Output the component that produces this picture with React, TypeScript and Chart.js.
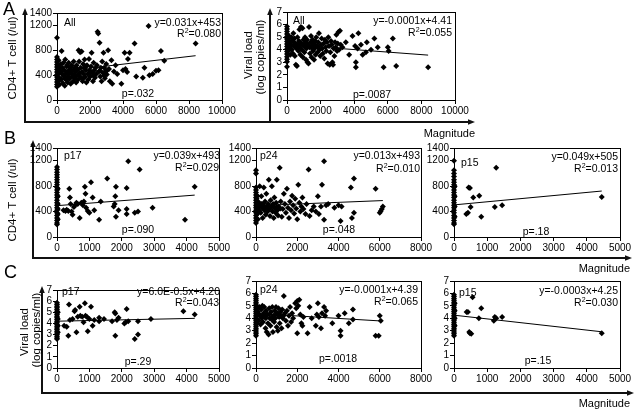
import React, { useEffect, useRef } from 'react';
import { Chart, registerables } from 'chart.js';

Chart.register(...registerables);

const FONT = "'Liberation Sans', Arial, Helvetica, sans-serif";

// ---------------- data ----------------
const cd4TicksY = [0, 400, 800, 1200, 1400];
const vlTicksY = [0, 1, 2, 3, 4, 5, 6, 7];
const magTicks10k = [0, 2000, 4000, 6000, 8000, 10000];
const magTicks8k = [0, 2000, 4000, 6000, 8000];
const magTicks5k = [0, 1000, 2000, 3000, 4000, 5000];

// Panel A: all responses
const allCd4 = [
  [0, 1000], [0, 690], [0, 650], [0, 610], [0, 570], [0, 530], [0, 490], [0, 450], [0, 410], [0, 370], [0, 330], [0, 290], [0, 250], [0, 215],
  [40, 560], [60, 420], [80, 300], [100, 640], [120, 500], [140, 360], [160, 250], [200, 460], [230, 580], [260, 330], [280, 790],
  [300, 420], [330, 520], [360, 270], [390, 600], [420, 380], [450, 480], [470, 230], [500, 650], [530, 420], [560, 320], [590, 540],
  [620, 450], [650, 280], [680, 380], [710, 600], [740, 480], [770, 340], [800, 520], [830, 260], [860, 430], [890, 560], [920, 380],
  [950, 470], [980, 300], [1010, 620], [1040, 410], [1070, 520], [1100, 350], [1130, 460], [1160, 280], [1190, 560], [1220, 400],
  [1250, 490], [1280, 330], [1310, 800], [1340, 620], [1370, 440], [1400, 770], [1430, 520], [1460, 360], [1490, 780], [1520, 450],
  [1550, 300], [1580, 580], [1610, 420], [1640, 520], [1670, 650], [1700, 370], [1740, 480], [1780, 280], [1820, 560], [1860, 420],
  [1900, 330], [1940, 660], [1980, 480], [2020, 380], [2060, 540], [2100, 760], [2140, 440], [2180, 300], [2220, 600], [2260, 480],
  [2300, 360], [2340, 520], [2380, 420], [2420, 560], [2460, 1100], [2500, 1070], [2540, 460], [2580, 920], [2620, 380], [2660, 520],
  [2700, 300], [2740, 620], [2780, 440], [2820, 760], [2860, 520], [2900, 350], [2940, 460], [2980, 580], [3020, 410], [3100, 800],
  [3150, 500], [3200, 300], [3300, 640], [3350, 260], [3450, 460], [3550, 560], [3650, 420], [3900, 260], [4000, 480], [4100, 760],
  [4150, 500], [4250, 450], [4300, 660], [4400, 760], [4700, 910], [4800, 380], [5200, 360], [5300, 520], [5550, 1190], [5600, 400],
  [5800, 420], [6000, 470], [6150, 480], [6300, 790], [6500, 630], [8400, 910],
  [150, 520], [350, 470], [480, 350], [610, 560], [700, 420], [880, 470], [990, 390], [1150, 510], [1330, 400], [1600, 350],
  [1750, 540], [2000, 450], [2200, 400], [2600, 470], [2850, 400], [3050, 480],
];
const allVl = [
  [0, 5.85], [0, 5.65], [0, 5.45], [0, 5.25], [0, 5.05], [0, 4.85], [0, 4.65], [0, 4.45], [0, 4.25], [0, 4.05], [0, 3.85], [0, 3.65],
  [0, 3.45], [0, 3.25], [0, 3.05], [0, 2.65],
  [40, 4.9], [60, 4.3], [80, 3.9], [100, 4.6], [120, 5.1], [140, 4.1], [160, 4.7], [200, 3.6], [230, 4.4], [260, 5.0], [290, 4.0],
  [320, 4.7], [350, 3.7], [380, 5.3], [410, 4.3], [440, 4.9], [470, 3.5], [500, 4.5], [530, 2.8], [560, 4.1], [590, 2.7], [620, 5.0],
  [650, 4.4], [680, 3.9], [710, 4.7], [740, 5.6], [770, 4.2], [800, 3.6], [830, 5.8], [860, 4.5], [890, 4.0], [920, 5.7], [950, 3.4],
  [980, 4.8], [1010, 4.3], [1040, 3.8], [1070, 5.0], [1100, 4.5], [1130, 3.2], [1160, 4.1], [1190, 4.8], [1220, 3.0], [1250, 4.4],
  [1280, 2.9], [1310, 5.8], [1340, 4.2], [1370, 3.7], [1400, 4.6], [1430, 5.1], [1460, 3.4], [1490, 4.3], [1520, 4.8], [1550, 3.9],
  [1580, 4.5], [1610, 3.2], [1640, 4.1], [1670, 4.7], [1700, 3.6], [1740, 5.0], [1780, 4.3], [1820, 3.8], [1860, 4.6], [1900, 5.3],
  [1940, 4.0], [1980, 3.5], [2020, 4.4], [2060, 4.9], [2100, 4.1], [2140, 3.7], [2180, 4.5], [2220, 3.3], [2260, 4.8], [2300, 4.2],
  [2340, 3.9], [2380, 4.6], [2420, 2.9], [2460, 5.0], [2500, 4.3], [2540, 2.8], [2580, 3.8], [2620, 4.7], [2660, 4.4], [2700, 3.0],
  [2740, 2.8], [2780, 4.1], [2820, 3.5], [2860, 4.6], [2900, 4.2], [2940, 5.2], [2980, 3.9], [3020, 4.5], [3060, 5.4], [3100, 4.0],
  [3150, 5.5], [3200, 4.4], [3300, 4.2], [3500, 4.6], [3700, 3.6], [3900, 5.1], [4050, 4.3], [4100, 3.0], [4100, 2.6], [4200, 4.1],
  [4250, 5.3], [4400, 4.4], [4500, 3.6], [4700, 3.8], [4750, 4.6], [5000, 4.0], [5200, 4.9], [5400, 4.2], [5750, 2.6], [6000, 4.2],
  [6050, 3.9], [6300, 4.9], [6500, 2.7], [8400, 2.6],
  [180, 4.2], [420, 4.6], [600, 4.2], [760, 4.6], [940, 4.4], [1120, 4.6], [1300, 4.3], [1500, 4.1], [1660, 4.4], [1850, 4.2],
];
const allCd4Trend = [[0, 453], [8400, 713]];
const allVlTrend = [[0, 4.41], [8400, 3.57]];

// Panel B: CD4 by protein
const p17Cd4 = [
  [0, 1100], [0, 1060], [0, 1020], [0, 980], [0, 940], [0, 900], [0, 860], [0, 820], [0, 780], [0, 740], [0, 700], [0, 660], [0, 620],
  [0, 580], [0, 540], [0, 500], [0, 460], [0, 420], [0, 380], [0, 340], [0, 300], [0, 260], [0, 220], [0, 195],
  [25, 760], [25, 640], [25, 520], [25, 440], [25, 360], [25, 280],
  [200, 420], [260, 410], [300, 430], [350, 410], [380, 760], [400, 620], [420, 520], [450, 400], [480, 350], [520, 470], [560, 500],
  [600, 540], [640, 520], [700, 300], [750, 540], [800, 500], [830, 560], [860, 790], [880, 680], [900, 460], [950, 410], [1000, 380],
  [1050, 860], [1100, 620], [1150, 420], [1300, 270], [1350, 560], [1550, 920], [1750, 480], [1780, 520], [1800, 640], [1820, 790],
  [1820, 320], [1900, 420], [2150, 770], [2150, 440], [2150, 360], [2200, 1190], [2400, 380], [2500, 400], [2550, 1060], [2950, 460],
  [3950, 270], [4250, 790],
];
const p24Cd4 = [
  [0, 1050], [0, 1000], [0, 780], [0, 740], [0, 700], [0, 660], [0, 620], [0, 580], [0, 540], [0, 500], [0, 460], [0, 420], [0, 380],
  [0, 340], [0, 300], [0, 260], [0, 220], [30, 600], [30, 480], [30, 400], [60, 650], [60, 520], [60, 360], [90, 460], [90, 280],
  [120, 550], [150, 420], [180, 800], [200, 500], [230, 380], [260, 640], [290, 460], [320, 300], [350, 520], [380, 780], [410, 420],
  [440, 560], [470, 350], [500, 680], [530, 460], [560, 400], [590, 520], [620, 900], [650, 440], [680, 330], [710, 580], [740, 480],
  [770, 800], [800, 400], [830, 520], [860, 300], [890, 620], [920, 450], [950, 380], [980, 540], [1010, 900], [1040, 420], [1070, 340],
  [1100, 480], [1150, 1090], [1200, 560], [1250, 320], [1300, 440], [1350, 680], [1400, 520], [1450, 380], [1500, 760], [1550, 460],
  [1600, 300], [1650, 560], [1700, 420], [1750, 650], [1800, 500], [1850, 370], [1900, 600], [1950, 450], [2000, 280], [2050, 820],
  [2100, 540], [2150, 400], [2200, 480], [2250, 620], [2300, 440], [2400, 360], [2450, 520], [2550, 1060], [2600, 330], [2700, 420],
  [2800, 480], [2900, 400], [3000, 640], [3050, 360], [3150, 480], [3200, 820], [3300, 1190], [3300, 270], [3400, 500], [3500, 520],
  [3800, 460], [4000, 500], [4100, 250], [4150, 480], [4600, 780], [4650, 300], [4750, 920], [4750, 380], [5800, 760], [6000, 380],
  [6050, 410], [6100, 440], [6150, 480],
  [140, 480], [270, 520], [420, 470], [560, 480], [700, 460], [850, 480], [1000, 470], [1180, 450],
];
const p15Cd4 = [
  [0, 1200], [0, 1050], [0, 1000], [0, 950], [0, 900], [0, 860], [0, 820], [0, 780], [0, 740], [0, 700], [0, 660], [0, 620], [0, 580],
  [0, 540], [0, 500], [0, 460], [0, 420], [0, 380], [0, 340], [0, 300], [0, 260], [0, 220], [0, 200],
  [20, 800], [20, 640], [20, 480], [20, 320],
  [370, 360], [420, 380], [440, 780], [480, 770], [500, 470], [580, 620], [760, 650], [820, 320], [1230, 470], [1270, 1090],
  [1450, 500], [4450, 630],
];
const p17Cd4Trend = [[0, 493], [4250, 659]];
const p24Cd4Trend = [[0, 493], [6150, 573]];
const p15Cd4Trend = [[0, 505], [4450, 723]];

// Panel C: viral load by protein
const p17Vl = [
  [0, 5.85], [0, 5.7], [0, 5.55], [0, 5.4], [0, 5.25], [0, 5.1], [0, 4.95], [0, 4.8], [0, 4.65], [0, 4.5], [0, 4.35], [0, 4.2],
  [0, 4.05], [0, 3.9], [0, 3.75], [0, 3.6], [0, 3.45], [0, 3.3], [0, 3.15], [0, 3.0], [0, 2.85], [0, 2.7], [0, 2.6],
  [25, 5.0], [25, 4.4], [25, 3.8], [25, 3.2],
  [220, 3.8], [300, 3.7], [350, 2.9], [370, 5.7], [400, 4.3], [480, 4.4], [540, 5.1], [560, 5.2], [600, 3.2], [640, 4.6], [700, 5.5],
  [720, 4.7], [780, 4.6], [820, 4.1], [860, 5.8], [880, 4.7], [920, 4.6], [950, 3.3], [1000, 4.4], [1050, 5.5], [1100, 3.8],
  [1150, 4.3], [1300, 4.5], [1300, 4.2], [1450, 4.4], [1700, 4.2], [1780, 5.0], [1800, 4.9], [1800, 2.9], [1850, 4.3], [1900, 4.5],
  [2080, 4.0], [2120, 4.1], [2150, 5.3], [2200, 4.2], [2400, 2.6], [2500, 3.0], [2500, 4.2], [2900, 4.4], [3900, 5.1], [4250, 4.8],
];
const p24Vl = [
  [0, 5.9], [0, 5.75], [0, 5.6], [0, 5.45], [0, 5.3], [0, 5.15], [0, 5.0], [0, 4.85], [0, 4.7], [0, 4.55], [0, 4.4], [0, 4.25],
  [0, 4.1], [0, 3.95], [0, 3.8], [0, 3.65], [0, 3.5], [0, 3.35], [0, 3.2], [0, 3.05], [0, 2.9], [0, 2.75], [0, 2.6],
  [40, 4.8], [40, 4.2], [40, 3.6], [70, 4.5], [70, 3.9],
  [100, 4.5], [130, 3.8], [160, 4.9], [190, 4.2], [220, 3.5], [250, 4.7], [280, 4.0], [310, 5.0], [340, 3.7], [370, 4.4], [400, 4.9],
  [430, 4.1], [460, 3.2], [490, 4.6], [520, 2.9], [550, 4.3], [580, 3.6], [610, 2.7], [640, 4.8], [670, 4.0], [700, 3.4], [730, 4.5],
  [760, 3.9], [790, 4.9], [820, 2.9], [850, 4.2], [880, 3.7], [910, 4.6], [940, 4.0], [970, 4.9], [1000, 3.3], [1030, 4.4], [1060, 3.0],
  [1090, 4.8], [1120, 4.1], [1150, 3.6], [1180, 4.5], [1210, 4.2], [1240, 3.2], [1270, 4.7], [1300, 4.0], [1350, 5.8], [1400, 4.4],
  [1450, 3.8], [1500, 4.6], [1550, 3.4], [1600, 4.2], [1650, 4.9], [1700, 3.7], [1750, 4.4], [1800, 4.0], [1900, 5.2], [1950, 4.8],
  [2000, 5.4], [2050, 5.0], [2100, 5.5], [2150, 4.3], [2000, 2.8], [2200, 3.6], [2250, 3.4], [2300, 4.1], [2500, 2.8], [2600, 4.9],
  [2700, 4.0], [2900, 3.4], [2950, 4.3], [3000, 5.2], [3050, 4.1], [3150, 3.2], [3200, 4.4], [3300, 4.9], [3350, 4.2], [3400, 4.6],
  [3700, 3.6], [4000, 4.2], [4100, 3.0], [4100, 2.6], [4300, 4.4], [4500, 3.6], [4700, 4.7], [4700, 3.9], [5800, 2.6], [5950, 2.6],
  [6000, 4.2], [6050, 3.8],
  [150, 4.3], [330, 4.2], [480, 4.0], [640, 4.3], [800, 4.1], [960, 4.3], [1130, 4.3], [1330, 4.2],
];
const p15Vl = [
  [0, 5.9], [0, 5.75], [0, 5.6], [0, 5.45], [0, 5.3], [0, 5.15], [0, 5.0], [0, 4.85], [0, 4.7], [0, 4.55], [0, 4.4], [0, 4.25],
  [0, 4.1], [0, 3.95], [0, 3.8], [0, 3.65], [0, 3.5], [0, 3.35], [0, 3.2], [0, 3.05], [0, 2.9], [0, 2.75], [0, 2.6],
  [20, 5.2], [20, 4.6], [20, 4.0], [20, 3.4],
  [380, 4.5], [420, 4.5], [460, 2.9], [480, 2.8], [520, 2.75], [560, 5.7], [750, 4.0], [820, 4.8], [1200, 3.8], [1230, 4.1],
  [1270, 4.0], [1450, 4.1], [4450, 2.8],
];
const p17VlTrend = [[0, 4.2], [4250, 4.455]];
const p24VlTrend = [[0, 4.39], [6050, 3.785]];
const p15VlTrend = [[0, 4.25], [4450, 2.915]];

// ---------------- layout ----------------
const YW = 36; // y-axis strip width
const XH = 22; // x-axis strip height
const PT = 8;
const PR = 18;

const panels = [
  {
    key: 'A1', box: [57, 13, 222, 100], xMax: 10000, xTicks: magTicks10k, yMax: 1400, yTicks: cd4TicksY,
    points: allCd4, trend: allCd4Trend, label: 'All', eq: 'y=0.031x+453', r2: '=0.080', p: 'p=.032',
    pos: { label: [64, 22], eq: [221, 22], r2: [221, 33], p: [138, 93] },
  },
  {
    key: 'A2', box: [287, 12, 455, 100], xMax: 10000, xTicks: magTicks10k, yMax: 7, yTicks: vlTicksY,
    points: allVl, trend: allVlTrend, label: 'All', eq: 'y=-0.0001x+4.41', r2: '=0.055', p: 'p=.0087',
    pos: { label: [293, 20], eq: [452, 20], r2: [452, 32], p: [372, 94] },
  },
  {
    key: 'B1', box: [57, 148, 219, 237], xMax: 5000, xTicks: magTicks5k, yMax: 1400, yTicks: cd4TicksY,
    points: p17Cd4, trend: p17Cd4Trend, label: 'p17', eq: 'y=0.039x+493', r2: '=0.029', p: 'p=.090',
    pos: { label: [64, 155], eq: [220, 155], r2: [219, 167], p: [138, 229] },
  },
  {
    key: 'B2', box: [256, 148, 421, 237], xMax: 8000, xTicks: magTicks8k, yMax: 1400, yTicks: cd4TicksY,
    points: p24Cd4, trend: p24Cd4Trend, label: 'p24', eq: 'y=0.013x+493', r2: '=0.010', p: 'p=.048',
    pos: { label: [260, 155], eq: [420, 155], r2: [420, 168], p: [339, 229] },
  },
  {
    key: 'B3', box: [454, 148, 620, 237], xMax: 5000, xTicks: magTicks5k, yMax: 1400, yTicks: cd4TicksY,
    points: p15Cd4, trend: p15Cd4Trend, label: 'p15', eq: 'y=0.049x+505', r2: '=0.013', p: 'p=.18',
    pos: { label: [461, 162], eq: [618, 156], r2: [618, 168], p: [536, 231] },
  },
  {
    key: 'C1', box: [57, 290, 219, 368], xMax: 5000, xTicks: magTicks5k, yMax: 7, yTicks: vlTicksY,
    points: p17Vl, trend: p17VlTrend, label: 'p17', eq: 'y=6.0E-0.5x+4.20', r2: '=0.043', p: 'p=.29',
    pos: { label: [62, 291], eq: [220, 291], r2: [219, 302], p: [138, 361] },
  },
  {
    key: 'C2', box: [256, 281, 421, 368], xMax: 8000, xTicks: magTicks8k, yMax: 7, yTicks: vlTicksY,
    points: p24Vl, trend: p24VlTrend, label: 'p24', eq: 'y=-0.0001x+4.39', r2: '=0.065', p: 'p=.0018',
    pos: { label: [260, 289], eq: [418, 289], r2: [418, 301], p: [338, 358] },
  },
  {
    key: 'C3', box: [454, 281, 620, 368], xMax: 5000, xTicks: magTicks5k, yMax: 7, yTicks: vlTicksY,
    points: p15Vl, trend: p15VlTrend, label: 'p15', eq: 'y=-0.0003x+4.25', r2: '=0.030', p: 'p=.15',
    pos: { label: [459, 292], eq: [618, 290], r2: [618, 302], p: [538, 360] },
  },
];

const framePlugin = {
  id: 'frame',
  beforeDatasetsDraw(chart: any) {
    const { ctx, chartArea } = chart;
    const l = Math.round(chartArea.left) + 0.5;
    const t = Math.round(chartArea.top) + 0.5;
    const r = Math.round(chartArea.right) + 0.5;
    const b = Math.round(chartArea.bottom) + 0.5;
    ctx.save();
    ctx.strokeStyle = '#000';
    ctx.lineWidth = 1;
    ctx.strokeRect(l, t, r - l, b - t);
    ctx.restore();
  },
};

function ChartPanel({ cfg }: { cfg: any }) {
  const ref = useRef<HTMLCanvasElement>(null);
  const [l, t, r, b] = cfg.box;
  const w = r - l + YW + PR;
  const h = b - t + PT + XH;
  useEffect(() => {
    const tickFont = { family: FONT, size: 10 };
    const chart = new Chart(ref.current as HTMLCanvasElement, {
      type: 'scatter',
      data: {
        datasets: [
          {
            data: cfg.points.map((pt: number[]) => ({ x: pt[0], y: pt[1] })),
            pointStyle: 'rectRot',
            pointRadius: 3,
            pointHoverRadius: 3,
            backgroundColor: '#000',
            borderColor: '#000',
            borderWidth: 0,
            clip: false,
          } as any,
          {
            type: 'line',
            data: cfg.trend.map((pt: number[]) => ({ x: pt[0], y: pt[1] })),
            borderColor: '#000',
            borderWidth: 1,
            pointRadius: 0,
            fill: false,
            showLine: true,
            tension: 0,
            clip: false,
          } as any,
        ],
      },
      options: {
        responsive: false,
        animation: false,
        devicePixelRatio: 1,
        events: [],
        layout: { padding: { left: 0, top: PT, right: PR, bottom: 0 } },
        plugins: { legend: { display: false }, tooltip: { enabled: false } },
        scales: {
          x: {
            type: 'linear',
            min: 0,
            max: cfg.xMax,
            afterBuildTicks: (s: any) => { s.ticks = cfg.xTicks.map((v: number) => ({ value: v })); },
            afterFit: (s: any) => {
              s.height = XH;
              s.paddingLeft = 0; s.paddingRight = 0; s.paddingTop = 0; s.paddingBottom = 0;
            },
            ticks: {
              font: tickFont, color: '#000', padding: 1, maxRotation: 0, minRotation: 0, autoSkip: false,
              callback: (v: any) => String(v),
            },
            grid: { drawOnChartArea: false, tickLength: 4, color: '#000', lineWidth: 1 },
            border: { color: '#000', width: 1 },
          },
          y: {
            type: 'linear',
            min: 0,
            max: cfg.yMax,
            afterBuildTicks: (s: any) => { s.ticks = cfg.yTicks.map((v: number) => ({ value: v })); },
            afterFit: (s: any) => {
              s.width = YW;
              s.paddingLeft = 0; s.paddingRight = 0; s.paddingTop = 0; s.paddingBottom = 0;
            },
            ticks: {
              font: tickFont, color: '#000', padding: 1, autoSkip: false,
              callback: (v: any) => String(v),
            },
            grid: { drawOnChartArea: false, tickLength: 4, color: '#000', lineWidth: 1 },
            border: { color: '#000', width: 1 },
          },
        },
      } as any,
      plugins: [framePlugin],
    });
    return () => chart.destroy();
  }, []);
  return (
    <canvas
      ref={ref}
      width={w}
      height={h}
      style={{ position: 'absolute', left: l - YW, top: t - PT, width: w, height: h }}
    />
  );
}

const annStyle: any = {
  position: 'absolute',
  fontFamily: FONT,
  fontSize: 10.5,
  lineHeight: '12px',
  color: '#000',
  whiteSpace: 'nowrap',
};

function Annotations({ cfg }: { cfg: any }) {
  const pos = cfg.pos;
  return (
    <>
      <div style={{ ...annStyle, left: pos.label[0], top: pos.label[1] - 6 }}>{cfg.label}</div>
      <div style={{ ...annStyle, right: 635 - pos.eq[0], top: pos.eq[1] - 6 }}>{cfg.eq}</div>
      <div style={{ ...annStyle, right: 635 - pos.r2[0], top: pos.r2[1] - 6 }}>
        R<span style={{ fontSize: 7, position: 'relative', top: -4 }}>2</span>{cfg.r2}
      </div>
      <div style={{ ...annStyle, left: pos.p[0], top: pos.p[1] - 6, transform: 'translateX(-50%)' }}>{cfg.p}</div>
    </>
  );
}

const titleStyle: any = {
  position: 'absolute',
  fontFamily: FONT,
  fontSize: 11.5,
  lineHeight: '13px',
  color: '#000',
  whiteSpace: 'nowrap',
  transform: 'translate(-50%, -50%) rotate(-90deg)',
};

const axisTitles = [
  { text: 'CD4+ T cell (/ul)', x: 12, y: 58 },
  { text: 'Viral load', x: 248, y: 55 },
  { text: '(log copies/ml)', x: 260, y: 57 },
  { text: 'CD4+ T cell (/ul)', x: 12, y: 200 },
  { text: 'Viral load', x: 24, y: 332 },
  { text: '(log copies/ml)', x: 35.5, y: 330 },
];

const magnitudeLabels = [
  { right: 475, y: 132.5 },
  { right: 630, y: 268 },
  { right: 630, y: 403 },
];

const rowLetters = [
  { text: 'A', x: 3, y: 9 },
  { text: 'B', x: 4, y: 138 },
  { text: 'C', x: 4, y: 272 },
];

function Frames() {
  const stroke = '#111';
  const sw = 2;
  const upArrow = (x: number, ty: number) => `${x},${ty} ${x - 2.8},${ty + 7} ${x + 2.8},${ty + 7}`;
  const rightArrow = (tx: number, y: number) => `${tx},${y} ${tx - 7},${y - 2.8} ${tx - 7},${y + 2.8}`;
  return (
    <svg width={635} height={412} style={{ position: 'absolute', left: 0, top: 0 }}>
      <g stroke={stroke} strokeWidth={sw} fill="none">
        <path d="M25,122 H469 M25,123 V14 M270,123 V14" />
        <path d="M33,258 H626 M33,259 V146" />
        <path d="M42,393 H628 M42,394 V292" />
      </g>
      <g fill={stroke}>
        <polygon points={upArrow(25, 8)} />
        <polygon points={upArrow(270, 8)} />
        <polygon points={rightArrow(475, 122)} />
        <polygon points={upArrow(33, 140)} />
        <polygon points={rightArrow(632, 258)} />
        <polygon points={upArrow(42, 286)} />
        <polygon points={rightArrow(634, 393)} />
      </g>
    </svg>
  );
}

export default function App() {
  return (
    <div
      style={{
        position: 'fixed', left: 0, top: 0, width: 635, height: 412, background: '#fff', overflow: 'hidden',
      }}
    >
      <Frames />
      {panels.map((cfg) => (
        <ChartPanel key={cfg.key} cfg={cfg} />
      ))}
      {panels.map((cfg) => (
        <Annotations key={'a' + cfg.key} cfg={cfg} />
      ))}
      {axisTitles.map((t, i) => (
        <div key={'t' + i} style={{ ...titleStyle, left: t.x, top: t.y }}>{t.text}</div>
      ))}
      {magnitudeLabels.map((m, i) => (
        <div
          key={'m' + i}
          style={{ ...annStyle, fontSize: 11, right: 635 - m.right, top: m.y - 6 }}
        >
          Magnitude
        </div>
      ))}
      {rowLetters.map((r, i) => (
        <div
          key={'r' + i}
          style={{
            position: 'absolute', left: r.x, top: r.y - 9, fontFamily: FONT, fontSize: 18, lineHeight: '18px', color: '#000',
          }}
        >
          {r.text}
        </div>
      ))}
    </div>
  );
}
